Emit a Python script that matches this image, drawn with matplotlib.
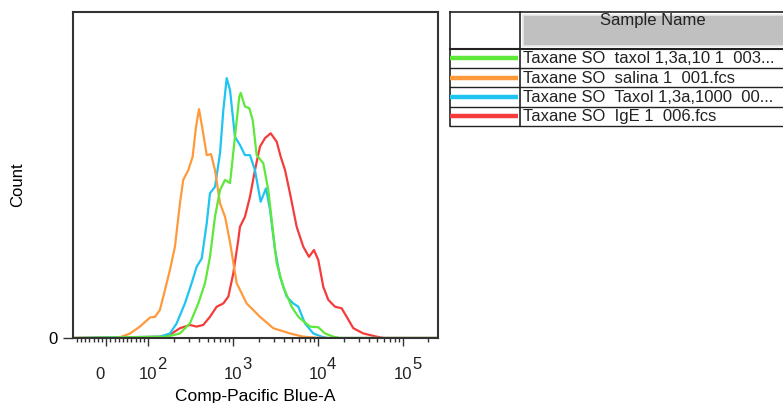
import numpy as np
import matplotlib
matplotlib.use("Agg")
import matplotlib.pyplot as plt
from matplotlib.transforms import blended_transform_factory, offset_copy

plt.rcParams.update({
    "font.family": ["Liberation Sans", "DejaVu Sans"],
    "font.size": 12,
    "text.color": "#222222",
})

# histogram traces (intensity, count)
green_x = [-79, 165, 236, 310, 388, 466, 533, 611, 700, 802, 918, 1050, 1180, 1227,
           1377, 1549, 1698, 1892, 2264, 2593, 2843, 3258, 3894, 4889, 5850, 8040,
           10070, 12080, 15140, 18000, 259000]
green_y = [0, 0.4, 1.4, 4.5, 10.6, 16.8, 24.9, 37.2, 45.4, 48.5, 47.5, 61.7, 74.0, 75.2,
           71.0, 70.5, 66.9, 56.1, 53.6, 45.4, 36.2, 22.9, 15.7, 9.6, 6.5, 3.5,
           3.3, 1.4, 0.4, 0, 0]

orange_x = [-79, 28, 57, 80, 105, 120, 137, 157, 180, 206, 236, 258, 296, 333, 365, 396,
            437, 488, 548, 611, 700, 802, 918, 1100, 1442, 2070, 2972, 4670, 6700, 9630,
            12000, 259000]
orange_y = [0, 0, 1.4, 3.5, 6.3, 6.5, 8.6, 14.7, 20.9, 28.0, 41.3, 48.5, 51.5, 55.6,
            64.8, 70.2, 63.8, 56.1, 56.4, 51.5, 41.3, 37.2, 29.4, 16.8, 10.6, 6.5, 3.0,
            1.4, 0.4, 0.1, 0, 0]

blue_x = [-79, 137, 180, 216, 270, 324, 372, 426, 488, 533, 611, 700, 766, 839, 918,
          1050, 1202, 1377, 1577, 1806, 2109, 2437, 2718, 3112, 3564, 4270, 5110, 5850,
          7010, 8790, 11040, 13000, 259000]
blue_y = [0, 0.4, 1.4, 4.5, 10.6, 16.8, 21.9, 24.4, 35.2, 44.4, 46.4, 56.7, 69.9, 79.7,
          76.1, 61.7, 59.2, 56.1, 56.1, 51.5, 41.8, 45.9, 39.3, 27.0, 18.8, 12.7, 10.6,
          9.6, 4.5, 1.4, 0.4, 0, 0]

red_x = [-79, 165, 236, 310, 371, 444, 533, 640, 766, 877, 1003, 1149, 1202, 1377, 1577,
         1806, 2070, 2371, 2767, 3258, 3631, 4085, 4670, 5600, 6700, 7820, 8950, 10070,
         11530, 13210, 15850, 18990, 21750, 26030, 34120, 49100, 60000, 259000]
red_y = [0, 0.4, 3.0, 4.0, 3.5, 4.0, 6.5, 9.6, 10.6, 12.7, 19.8, 30.1, 34.1, 37.2, 43.3,
         51.5, 58.7, 61.3, 62.8, 60.2, 55.6, 51.5, 44.4, 34.1, 28.0, 24.9, 27.0, 23.9,
         15.7, 11.7, 9.6, 9.1, 6.5, 3.0, 1.4, 0.4, 0, 0]

sample_names = ["Taxane SO  taxol 1,3a,10 1  003...",
                "Taxane SO  salina 1  001.fcs",
                "Taxane SO  Taxol 1,3a,1000  00...",
                "Taxane SO  IgE 1  006.fcs"]
colors = ["#5ee83a", "#ff9a3c", "#1ec4f2", "#f53c3c"]
series = [(green_x, green_y), (orange_x, orange_y), (blue_x, blue_y), (red_x, red_y)]

decades = [2, 3, 4, 5]
minor = ([-v for v in range(10, 80, 10)] + list(range(10, 100, 10))
         + [m * 10 ** d for d in range(2, 5) for m in range(2, 10)] + [200000])

fig = plt.figure(figsize=(7.83, 4.03), dpi=100)
ax = fig.add_axes([73 / 783, 65 / 403, 365 / 783, 326 / 403])

for (x, y), c in reversed(list(zip(series, colors))):
    ax.plot(x, y, color=c, lw=1.6, solid_joinstyle="round")

ax.set_xscale("symlog", linthresh=100, linscale=0.446, base=10)
ax.set_xlim(-79, 259000)
ax.set_ylim(0, 100)

for s in ax.spines.values():
    s.set_color("#333333")
    s.set_linewidth(1.5)

ax.set_xticks([0] + [10 ** d for d in decades])
ax.set_xticks(minor, minor=True)
ax.set_xticklabels([])
ax.tick_params(axis="x", which="major", direction="out", length=6, width=1, color="#333333")
ax.tick_params(axis="x", which="minor", direction="out", length=3, width=1, color="#333333")
ax.set_yticks([0])
ax.set_yticklabels(["0"])
ax.tick_params(axis="y", direction="out", length=7, width=1, color="#333333", pad=4)

# decade labels with full-size exponents
tr = blended_transform_factory(ax.transData, ax.transAxes)
ylab = -41 / 326
ax.text(0, ylab, "0", transform=offset_copy(tr, fig, x=-6, y=0, units="dots"),
        ha="center", va="baseline")
for d in decades:
    ax.text(10 ** d, ylab, "10", transform=tr, ha="center", va="baseline")
    ax.text(10 ** d, ylab, str(d), transform=offset_copy(tr, fig, x=9, y=10, units="dots"),
            ha="left", va="baseline")

ax.set_xlabel("Comp-Pacific Blue-A", fontsize=12.5)
ax.xaxis.set_label_coords(0.5, -59 / 326)
ax.xaxis.label.set_va("center")
ax.set_ylabel("Count")
ax.yaxis.set_label_coords(-55 / 365, 0.47)
ax.yaxis.label.set_va("center")

# sample table on the right
tb = fig.add_axes([0, 0, 1, 1], facecolor="none")
tb.set_xlim(0, 783)
tb.set_ylim(403, 0)
tb.axis("off")
tb.add_patch(plt.Rectangle((522.5, 15), 300, 31, facecolor="#c0c0c0", edgecolor="#e8e8e8", lw=1.2))
tb.plot([449.5, 800], [12, 12], color="#222222", lw=1.2)
tb.plot([449.5, 449.5], [12, 126], color="#222222", lw=1.2)
tb.plot([519.5, 519.5], [12, 126], color="#222222", lw=1.2)
tb.plot([449.5, 800], [48.5, 48.5], color="#222222", lw=1.5)
row_y = [58.3, 77.7, 96.9, 116.2]
for yy in [68, 87.4, 106.6, 126]:
    tb.plot([449.5, 800], [yy, yy], color="#222222", lw=1)
tb.text(653, 20, "Sample Name", ha="center", va="center")
for yy, name, c in zip(row_y, sample_names, colors):
    tb.plot([450, 518], [yy, yy], color=c, lw=3.2, solid_capstyle="butt")
    tb.text(523, yy + 0.5, name, ha="left", va="center")

fig.savefig("out.png", dpi=100)
